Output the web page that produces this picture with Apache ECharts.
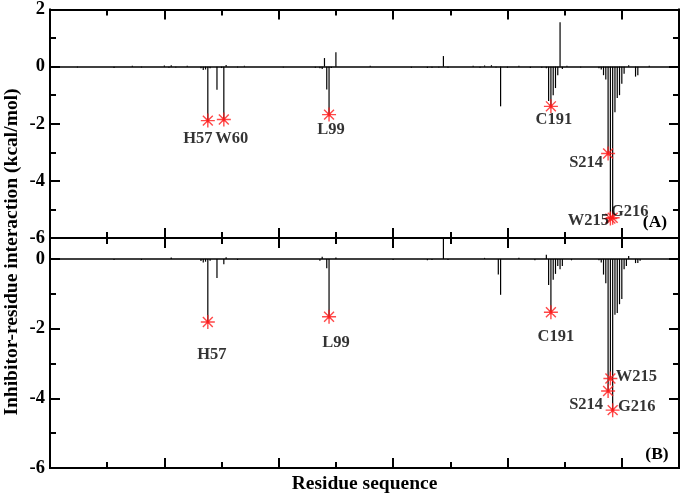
<!DOCTYPE html>
<html><head><meta charset="utf-8">
<script src="https://cdn.jsdelivr.net/npm/echarts@6/dist/echarts.min.js"></script>
<style>html,body{margin:0;padding:0;background:#fff}#c{width:685px;height:495px}</style>
</head><body><div id="c"></div>
<script>
// Panel (A): residue index (sequential) and interaction energy (kcal/mol)
const residuesA = [12,28,36,40,50,52,53,55,60,66,67,68,69,70,73,75,76,77,82,85,102,116,118,119,120,121,122,123,125,140,158,165,167,170,172,174,185,188,190,193,195,197,200,205,210,215,217,218,219,220,221,222,223,224,226,232,240,241,242,243,244,245,246,247,248,249,250,251,253,256,257,262];
const energiesA = [-0.03,-0.05,0.03,-0.03,0.04,-0.04,0.05,-0.03,0.03,-0.06,-0.12,-0.1,-1.89,-0.06,-0.81,-0.05,-1.85,0.06,-0.03,0.03,-0.03,-0.04,-0.06,-0.08,0.3,-0.8,-1.68,-0.05,0.5,0.03,-0.04,-0.05,-0.04,-0.03,0.37,-0.04,0.03,-0.04,0.04,0.05,-0.03,-1.39,-0.04,0.03,-0.05,-0.04,-0.06,-1.2,-1.39,-1.0,-0.75,-0.3,1.55,-0.08,0.03,-0.03,-0.06,-0.1,-0.3,-0.45,-3.04,-5.32,-5.29,-1.6,-1.1,-1.0,-0.6,-0.25,0.05,-0.35,-0.3,0.03];
// Panel (B)
const residuesB = [28,40,53,66,67,68,69,70,73,76,77,82,118,119,121,122,125,150,165,167,172,174,190,196,197,205,212,217,218,219,220,221,222,223,224,228,240,241,242,243,244,245,246,247,248,249,250,251,252,253,256,257,258];
const energiesB = [-0.03,-0.03,0.04,-0.06,-0.1,-0.08,-1.81,-0.05,-0.55,-0.15,0.05,-0.03,-0.05,0.06,-0.27,-1.66,0.04,-0.03,-0.04,-0.03,0.8,-0.03,0.03,-0.45,-1.03,0.03,-0.04,0.12,-0.75,-1.53,-0.6,-0.43,-0.2,-0.3,-0.2,-0.04,-0.04,-0.1,-0.45,-0.7,-3.79,-3.43,-4.34,-1.6,-1.55,-1.3,-1.15,-0.3,-0.2,0.08,-0.12,-0.12,-0.05];
// Highlighted residues
const markedNamesA = ['H57','W60','L99','C191','S214','W215','G216'];
const markedResiduesA = [69,76,122,219,244,245,246];
const markedNamesB = ['H57','L99','C191','S214','W215','G216'];
const markedResiduesB = [69,122,219,244,245,246];
// Ticks
const xMajorTicks = [0,50,100,150,200,250];
const xMinorTicks = [25,75,125,175,225];
const yMajorA = [-6,-4,-2,0,2];
const yMinorA = [-5,-3,-1,1];
const yMajorB = [-6,-4,-2,0];
const yMinorB = [-5,-3,-1];

const FONT = 'Liberation Serif';
const AX = {color:'#000', width:2};

function xAx(g, pos, ticks, len, extra) {
  return Object.assign({
    type:'value', gridIndex:g, position:pos, min:0, max:275,
    axisLine:{show:true, onZero:false, lineStyle:AX},
    axisTick:{show:true, inside:true, length:len, customValues:ticks, lineStyle:AX},
    axisLabel:{show:false}, splitLine:{show:false}
  }, extra || {});
}
function yAx(g, pos, min, max, ticks, len, labels) {
  return {
    type:'value', gridIndex:g, position:pos, min:min, max:max,
    axisLine:{show:true, onZero:false, lineStyle:AX},
    axisTick:{show:true, inside:true, length:len, customValues:ticks, lineStyle:AX},
    axisLabel: labels ? {show:true, customValues:ticks, fontFamily:FONT, fontWeight:'bold', fontSize:18.5, color:'#000', margin:5} : {show:false},
    splitLine:{show:false}
  };
}

const labelOffsets = {
  A: {H57:[-10,18], W60:[8,19], L99:[2,15], C191:[3,13], S214:[-22,9], W215:[-22,2], G216:[17,-6]},
  B: {H57:[4,33], L99:[7,26], C191:[5,25], S214:[-22,14], W215:[26,-2], G216:[24,-3]}
};

const STAR = 'path://M0,-10L0,10M-10,0L10,0M-7.07,-7.07L7.07,7.07M-7.07,7.07L7.07,-7.07M-2.2,0A2.2,2.2,0,1,0,2.2,0A2.2,2.2,0,1,0,-2.2,0Z';

function barSeries(xi, yi, res, en) {
  return {
    type:'bar', xAxisIndex:xi, yAxisIndex:yi, barWidth:1.2, silent:true,
    data: res.map((r,i)=>[r, en[i]]),
    itemStyle:{color:'#000'},
    markLine:{silent:true, symbol:'none', label:{show:false},
      lineStyle:{color:'#000', width:1.5, type:'solid'}, data:[{yAxis:0}]}
  };
}
function starSeries(xi, yi, names, res, allRes, allEn, key) {
  return {
    type:'scatter', xAxisIndex:xi, yAxisIndex:yi, symbol:STAR, symbolSize:14, z:5, silent:true,
    itemStyle:{color:'#ff1a1a', borderColor:'#ff1a1a', borderWidth:1.4},
    label:{show:true, position:'inside', formatter:'{b}', fontFamily:FONT, fontWeight:'bold', fontSize:16.5, color:'#000', textBorderWidth:0},
    data: names.map((n,i)=>({name:n, value:[res[i], allEn[allRes.indexOf(res[i])]], label:{offset:labelOffsets[key][n]}}))
  };
}

const option = {
  animation:false,
  backgroundColor:'#fff',
  grid:[
    {left:50, right:6, top:8, height:230},
    {left:50, right:6, top:238, height:230}
  ],
  xAxis:[
    xAx(0,'bottom',xMajorTicks,10), xAx(0,'bottom',xMinorTicks,6),
    xAx(0,'top',xMajorTicks,10), xAx(0,'top',xMinorTicks,6),
    xAx(1,'bottom',xMajorTicks,10,{name:'Residue sequence', nameLocation:'middle', nameGap:6,
      nameTextStyle:{fontFamily:FONT, fontWeight:'bold', fontSize:19.5, color:'#000', verticalAlign:'top'}}),
    xAx(1,'bottom',xMinorTicks,6),
    xAx(1,'top',xMajorTicks,10), xAx(1,'top',xMinorTicks,6)
  ],
  yAxis:[
    yAx(0,'left',-6,2,yMajorA,10,true), yAx(0,'left',-6,2,yMinorA,6,false),
    yAx(0,'right',-6,2,yMajorA,10,false), yAx(0,'right',-6,2,yMinorA,6,false),
    yAx(1,'left',-6,0.6,yMajorB,10,true), yAx(1,'left',-6,0.6,yMinorB,6,false),
    yAx(1,'right',-6,0.6,yMajorB,10,false), yAx(1,'right',-6,0.6,yMinorB,6,false)
  ],
  series:[
    barSeries(0,0,residuesA,energiesA),
    starSeries(0,0,markedNamesA,markedResiduesA,residuesA,energiesA,'A'),
    barSeries(4,4,residuesB,energiesB),
    starSeries(4,4,markedNamesB,markedResiduesB,residuesB,energiesB,'B')
  ],
  graphic:[
    {type:'text', x:12, y:252, rotation:Math.PI/2, style:{text:'Inhibitor-residue interaction (kcal/mol)', font:'bold 19.5px "Liberation Serif"', fill:'#000', align:'center', verticalAlign:'middle'}},
    {type:'text', x:655, y:222, style:{text:'(A)', font:'bold 17.5px "Liberation Serif"', fill:'#000', align:'center', verticalAlign:'middle'}},
    {type:'text', x:657, y:454, style:{text:'(B)', font:'bold 17.5px "Liberation Serif"', fill:'#000', align:'center', verticalAlign:'middle'}}
  ]
};
const chart = echarts.init(document.getElementById('c'), null, {renderer:'canvas'});
chart.setOption(option);
</script></body></html>
